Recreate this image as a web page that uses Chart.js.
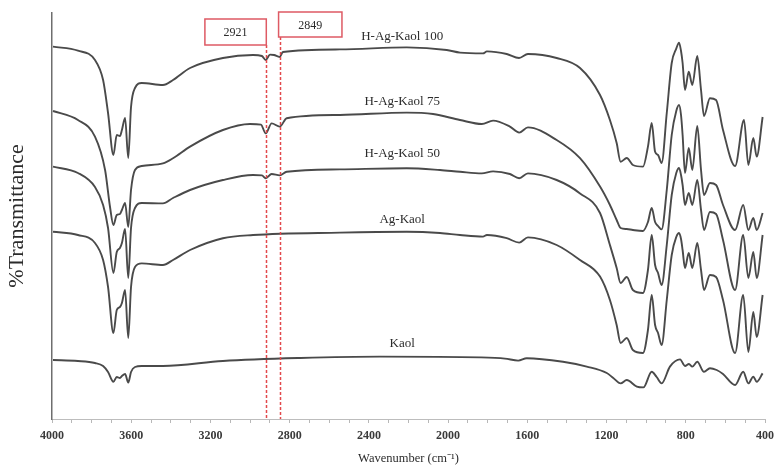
<!DOCTYPE html>
<html>
<head>
<meta charset="utf-8">
<script src="https://cdn.jsdelivr.net/npm/chart.js@4.4.1/dist/chart.umd.min.js"></script>
<style>
  html, body { margin: 0; padding: 0; background: #fff; }
  #wrap { width: 774px; height: 466px; position: relative; }
</style>
</head>
<body>
<div id="wrap"><canvas id="ftir"></canvas></div>
<script>
// FTIR spectra, [wavenumber cm-1, %T (arbitrary offset units)]
const hAgKaol100 = [
  [3995, 93.1], [3869, 92.1], [3783, 89.75], [3742, 84.75], [3717, 76.5], [3690, 66], [3673, 71],
  [3657, 70.75], [3647, 72.25], [3631, 75.25], [3615, 65.25], [3601, 78], [3581, 82.75], [3547, 84],
  [3440, 83.5], [3389, 84.75], [3303, 87.75], [3137, 90.25], [2985, 91], [2940, 90.75], [2921, 89.75],
  [2899, 91.1], [2879, 91], [2850, 90.5], [2834, 91.75], [2546, 92.4], [2209, 92.9], [2007, 92.25],
  [1940, 91.6], [1824, 91.4], [1804, 91.9], [1704, 91.25], [1642, 90.25], [1597, 91.25], [1452, 90.25],
  [1334, 87.75], [1233, 81], [1183, 74.75], [1149, 69], [1129, 64.3], [1098, 65.25], [1067, 63.5],
  [1016, 63.1], [991, 68.1], [972, 74], [955, 66.8], [940, 66], [922, 64], [896, 76.5], [871, 89],
  [848, 92.6], [834, 94.1], [824, 92], [816, 89], [804, 82.25], [785, 86.8], [767, 83.5], [742, 90.75],
  [723, 82.25], [708, 75.75], [678, 80.2], [647, 79.75], [612, 72.25], [551, 63.25], [506, 74.75],
  [484, 63.5], [459, 70.25], [442, 65.6], [412, 75.5]
];
const hAgKaol75 = [
  [3995, 77], [3869, 74.75], [3783, 70.6], [3732, 62.25], [3707, 53], [3690, 48.5], [3673, 51],
  [3657, 51.25], [3647, 52.25], [3631, 54], [3615, 48], [3601, 57.25], [3581, 62.25], [3547, 63.25],
  [3440, 63.9], [3389, 65.2], [3303, 68.1], [3137, 72.25], [3000, 73.75], [2945, 73.6], [2921, 71.4],
  [2891, 73.9], [2850, 73.1], [2815, 75.2], [2546, 76], [2209, 76.6], [2076, 76.25], [1940, 74.75],
  [1830, 73.75], [1773, 74.6], [1688, 73.1], [1641, 71.6], [1597, 72.9], [1452, 69.75], [1334, 65.2],
  [1233, 58.1], [1183, 53.5], [1149, 49.75], [1129, 47.75], [1098, 47.5], [1067, 47.25], [1016, 47],
  [991, 49.25], [972, 52.75], [955, 49.25], [940, 48.25], [922, 47.4], [896, 57.25], [871, 71],
  [848, 77], [834, 78.5], [824, 76], [816, 71], [804, 61.5], [785, 67.75], [767, 62.25], [742, 73.25],
  [723, 62.25], [708, 56], [678, 59], [647, 58.5], [612, 53.5], [551, 47.25], [510, 53.5], [484, 47.25],
  [459, 50.25], [442, 47.25], [412, 51.5]
];
const hAgKaol50 = [
  [3995, 63.1], [3869, 61.5], [3783, 58], [3742, 53.5], [3717, 47.75], [3690, 36.5], [3673, 41.75],
  [3657, 42.75], [3647, 44], [3631, 47.5], [3615, 35.25], [3601, 47.75], [3581, 52.75], [3547, 54],
  [3440, 53.9], [3389, 55.25], [3303, 57.25], [3137, 59.75], [2985, 61], [2940, 60.9], [2921, 60.2],
  [2891, 61.25], [2850, 60.9], [2815, 61.8], [2546, 62.4], [2209, 62.7], [2041, 62.25], [1940, 61.8],
  [1830, 61.4], [1773, 61.9], [1688, 61.25], [1641, 60.2], [1597, 61.4], [1452, 59.75], [1334, 56.4],
  [1233, 51.5], [1183, 43.5], [1149, 37.75], [1129, 34], [1098, 35.5], [1067, 32.25], [1016, 31.5],
  [991, 37.25], [972, 46], [955, 38.5], [940, 36.5], [922, 33.5], [896, 43.5], [871, 56],
  [848, 61.5], [834, 62.75], [824, 61], [816, 58.5], [804, 53.5], [785, 56.5], [767, 53.5], [742, 59.75],
  [723, 52.25], [708, 47.25], [678, 51.75], [647, 51.25], [612, 44.75], [551, 32.25], [510, 46],
  [484, 35.25], [459, 41.75], [442, 35.25], [412, 46]
];
const agKaol = [
  [3995, 46.8], [3869, 46], [3783, 44], [3742, 39.75], [3717, 33], [3690, 21.5], [3673, 27.25],
  [3657, 28], [3647, 29], [3631, 32.25], [3615, 20.25], [3601, 33], [3581, 38], [3547, 38.9],
  [3440, 38.5], [3389, 39.75], [3303, 42.25], [3137, 45.2], [2985, 46], [2546, 46.6], [2209, 46.8],
  [2041, 46.5], [1940, 46], [1824, 45.6], [1804, 46], [1704, 45.2], [1641, 44.1], [1597, 45.4],
  [1452, 43.5], [1334, 39.75], [1233, 35.6], [1183, 29.75], [1149, 23.5], [1129, 19], [1098, 20.25],
  [1067, 17.25], [1016, 16.5], [991, 22.25], [972, 31], [955, 23.5], [940, 21.5], [922, 18.5],
  [896, 29.75], [871, 41], [848, 45.5], [834, 46.5], [824, 45], [816, 42.25], [804, 37.75], [785, 41.5],
  [767, 37.75], [742, 44], [723, 37.25], [708, 32.25], [678, 36], [647, 35.5], [612, 29.75], [551, 16.5],
  [510, 31], [484, 16.75], [459, 26.75], [442, 20.5], [412, 31]
];
const kaol = [
  [3995, 14.75], [3869, 14.5], [3783, 14], [3742, 13.25], [3717, 11.75], [3690, 9.3], [3673, 10.5],
  [3657, 10.25], [3647, 10.75], [3631, 11.25], [3615, 9.1], [3601, 11.75], [3581, 13], [3547, 13.25],
  [3440, 13.25], [3137, 14.5], [2746, 15.25], [2344, 15.6], [1839, 15.4], [1713, 15.1], [1646, 14.6],
  [1603, 15.2], [1420, 14.3], [1300, 13.1], [1199, 11.5], [1166, 10.25], [1129, 8.9], [1098, 9.75],
  [1047, 8.1], [1014, 7.9], [972, 11.8], [947, 10.5], [922, 8.9], [880, 13.1], [829, 14.9],
  [804, 13.25], [784, 13.75], [767, 13.1], [742, 14.3], [708, 11.8], [678, 12.7], [644, 12.25],
  [612, 11.25], [551, 8.5], [510, 11.8], [484, 8.9], [459, 10.6], [442, 9.3], [412, 11.4]
];

const seriesNames = ['H-Ag-Kaol 100', 'H-Ag-Kaol 75', 'H-Ag-Kaol 50', 'Ag-Kaol', 'Kaol'];
const seriesData = [hAgKaol100, hAgKaol75, hAgKaol50, agKaol, kaol];
const labelWavenumber = 2232;
const labelT = [95.5, 79.3, 66.25, 49.9, 18.9];

// marked bands and their boxes
const markBands = [2921, 2849];
const markBoxFrom = [3228, 2856];
const markBoxTo = [2918, 2536];
const markBoxTop = [100, 101.75];
const markBoxBottom = [93.5, 95.5];

const serif = '"Liberation Serif", "Times New Roman", serif';

const annotations = {
    id: 'annotations',
    afterDatasetsDraw(chart) {
        const ctx = chart.ctx;
        const x = chart.scales.x;
        const y = chart.scales.y;
        ctx.save();

        // sample names
        ctx.font = '13px ' + serif;
        ctx.fillStyle = '#2b2b2b';
        ctx.textAlign = 'center';
        ctx.textBaseline = 'middle';
        seriesNames.forEach((name, i) => {
            ctx.fillText(name, x.getPixelForValue(labelWavenumber), y.getPixelForValue(labelT[i]));
        });

        // dashed band markers
        ctx.strokeStyle = '#e2484b';
        ctx.lineWidth = 1.5;
        ctx.setLineDash([3, 2]);
        markBands.forEach((wn, i) => {
            const px = Math.round(x.getPixelForValue(wn)) + 0.5;
            ctx.beginPath();
            ctx.moveTo(px, y.getPixelForValue(markBoxBottom[i]));
            ctx.lineTo(px, y.bottom);
            ctx.stroke();
        });

        // boxes with band values
        ctx.setLineDash([]);
        ctx.strokeStyle = '#de5a64';
        ctx.font = '12px ' + serif;
        markBands.forEach((wn, i) => {
            const x0 = x.getPixelForValue(markBoxFrom[i]);
            const x1 = x.getPixelForValue(markBoxTo[i]);
            const y0 = y.getPixelForValue(markBoxTop[i]);
            const y1 = y.getPixelForValue(markBoxBottom[i]);
            ctx.strokeRect(x0, y0, x1 - x0, y1 - y0);
            ctx.fillText(String(wn), (x0 + x1) / 2, (y0 + y1) / 2 + 1);
        });
        ctx.restore();
    }
};

const ctx = document.getElementById('ftir').getContext('2d');
new Chart(ctx, {
    type: 'line',
    data: {
        datasets: seriesData.map((d, i) => ({
            label: seriesNames[i],
            data: d,
            borderColor: '#4a4a4a',
            borderWidth: 1.9,
            pointRadius: 0,
            fill: false,
            cubicInterpolationMode: 'monotone'
        }))
    },
    options: {
        responsive: true,
        maintainAspectRatio: false,
        animation: false,
        layout: { padding: { top: 13, right: 9, left: 0, bottom: 0 } },
        plugins: {
            legend: { display: false },
            tooltip: { enabled: false }
        },
        scales: {
            x: {
                type: 'linear',
                reverse: true,
                min: 400,
                max: 4000,
                ticks: {
                    stepSize: 100,
                    autoSkip: false,
                    maxRotation: 0,
                    padding: 6,
                    color: '#3a3a3a',
                    font: { family: serif, size: 12, weight: 'bold' },
                    callback: v => (Math.round(v) % 400 === 0 ? String(Math.round(v)) : '')
                },
                grid: {
                    drawOnChartArea: false,
                    drawTicks: true,
                    tickLength: 4,
                    color: '#b8b8b8'
                },
                border: { display: true, color: '#bdbdbd', width: 1 },
                title: {
                    display: true,
                    text: 'Wavenumber (cm\u207B\u00B9)',
                    color: '#2b2b2b',
                    font: { family: serif, size: 12.5 },
                    padding: { top: 0, bottom: 0 }
                },
                afterFit: s => { s.height = 47; s.paddingLeft = 0; s.paddingRight = 0; }
            },
            y: {
                min: 0,
                max: 101.5,
                ticks: { display: false },
                grid: { display: false },
                border: { display: true, color: '#6e6e6e', width: 1.5 },
                title: {
                    display: true,
                    text: '%Transmittance',
                    color: '#2b2b2b',
                    font: { family: serif, size: 22 },
                    padding: { top: 4, bottom: 0 }
                },
                afterFit: s => { s.width = 52; }
            }
        }
    },
    plugins: [annotations]
});
</script>
</body>
</html>
